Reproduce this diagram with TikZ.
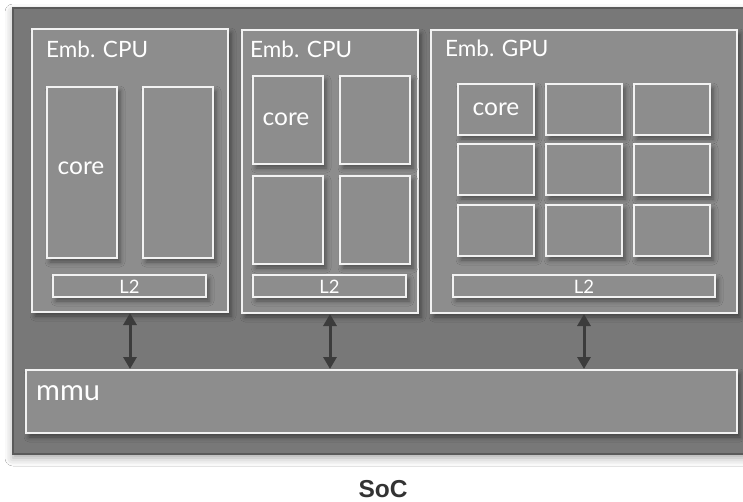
\documentclass[tikz,border=0pt]{standalone}
\usepackage{fontspec}
\setmainfont{Lato}
\newfontfamily\labelfont{Liberation Sans}
\usetikzlibrary{arrows.meta,shadows.blur}
\definecolor{chipfill}{HTML}{787878}
\definecolor{chipedge}{HTML}{5A5A5A}
\definecolor{blockfill}{HTML}{8D8D8D}
\definecolor{blockedge}{HTML}{F2F2F2}
\definecolor{busarrow}{HTML}{3C3C3C}
\definecolor{captext}{HTML}{333333}
\tikzset{
  chip/.style={draw=chipedge, line width=1.2pt, fill=chipfill, anchor=north west,
    inner sep=0pt, outer sep=0pt,
    blur shadow={shadow xshift=0pt, shadow yshift=-4pt, shadow blur radius=8pt, shadow opacity=35}},
  block/.style={draw=blockedge, line width=1.4pt, fill=blockfill, anchor=north west,
    inner sep=0pt, outer sep=0pt,
    blur shadow={shadow xshift=3pt, shadow yshift=-4pt, shadow blur radius=5pt, shadow opacity=45}},
  title/.style={text=white, font=\fontsize{22.5}{26}\selectfont, anchor=base west, inner sep=0pt},
  coretext/.style={text=white, font=\fontsize{24.5}{28}\selectfont, anchor=base, inner sep=0pt},
  cachetext/.style={text=white, font=\fontsize{18.5}{21}\selectfont, anchor=base, inner sep=0pt},
  bus/.style={draw=busarrow, line width=3pt, {Triangle[width=13pt,length=12pt]}-{Triangle[width=13pt,length=12pt]}, shorten <=1pt, shorten >=1pt}
}
\newcommand{\blk}[5]{\node[block, minimum width=#4pt, minimum height=#5pt] (#1) at (#2,#3) {};}
\begin{document}
\begin{tikzpicture}[x=1pt, y=-1pt]
  \useasboundingbox[fill=white] (0,0) rectangle (743,501);

  % system-on-chip outline
  \node[chip, minimum width=760pt, minimum height=446pt] (soc) at (13,8) {};

  % first CPU cluster
  \blk{cpuA}{32}{29}{196}{283}
  \node[title] (cpuAt) at (46,57) {Emb. CPU};
  \blk{cpuAc1}{47}{87}{70}{171}
  \blk{cpuAc2}{143}{87}{70}{171}
  \node[coretext] (cpuAct) at (81,174) {core};
  \blk{cpuAl2}{53}{275}{153}{22}
  \node[cachetext] (cpuAl2t) at (cpuAl2.center |- 0,293) {L2};

  % second CPU cluster
  \blk{cpuB}{242}{30}{176}{283}
  \node[title] (cpuBt) at (250,57) {Emb. CPU};
  \blk{cpuBc1}{253}{76}{70}{88}
  \blk{cpuBc2}{340}{76}{70}{88}
  \blk{cpuBc3}{253}{176}{70}{88}
  \blk{cpuBc4}{340}{176}{70}{88}
  \node[coretext] (cpuBct) at (286,125) {core};
  \blk{cpuBl2}{253}{275}{153}{22}
  \node[cachetext] (cpuBl2t) at (cpuBl2.center |- 0,293) {L2};

  % GPU cluster
  \blk{gpu}{431}{30}{306}{283}
  \node[title] (gput) at (445,56) {Emb. GPU};
  \blk{gc11}{458}{84}{76}{51}
  \blk{gc12}{546}{84}{76}{51}
  \blk{gc13}{634}{84}{76}{51}
  \blk{gc21}{458}{144}{76}{51}
  \blk{gc22}{546}{144}{76}{51}
  \blk{gc23}{634}{144}{76}{51}
  \blk{gc31}{458}{205}{76}{51}
  \blk{gc32}{546}{205}{76}{51}
  \blk{gc33}{634}{205}{76}{51}
  \node[coretext] (gct) at (496,115) {core};
  \blk{gpul2}{453}{275}{262}{22}
  \node[cachetext] (gpul2t) at (gpul2.center |- 0,293) {L2};

  % memory management unit
  \blk{mmu}{26}{370}{711}{63}
  \node[text=white, font=\fontsize{29}{32}\selectfont, anchor=base west, inner sep=0pt] (mmut) at (36,400) {mmu};

  % links between clusters and the mmu
  \draw[bus] (cpuA.south) -- (cpuA.south |- mmu.north);
  \draw[bus] (cpuB.south) -- (cpuB.south |- mmu.north);
  \draw[bus] (gpu.south) -- (gpu.south |- mmu.north);

  % caption
  \node[text=captext, font=\labelfont\bfseries\fontsize{24.5}{28}\selectfont, anchor=base] (cap) at (383,497) {SoC};
\end{tikzpicture}
\end{document}
